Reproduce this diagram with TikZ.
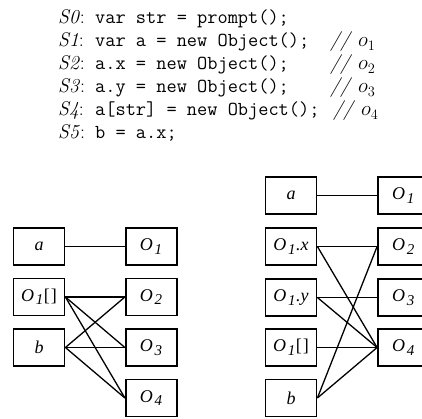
\documentclass[tikz,border=0pt]{standalone}
\usepackage{fontspec}
\newfontfamily\timesfont{Liberation Serif}
\newfontfamily\codefont{Latin Modern Mono}
\tikzset{
  box/.style={draw, line width=1.8pt, minimum width=51pt, minimum height=37pt,
    inner sep=0pt, font=\timesfont\itshape\fontsize{18}{18}\selectfont},
  link/.style={line width=1.3pt},
  codetext/.style={anchor=base west, inner sep=0pt, font=\fontsize{19.8}{23}\selectfont},
}
\newcommand\osub[1]{O\kern1.8pt\raisebox{-3.5pt}{\fontsize{15}{15}\selectfont #1}\kern0.5pt}
\newcommand\cd[1]{{\codefont #1}}
\begin{document}
\begin{tikzpicture}[x=1pt,y=-1pt]
\useasboundingbox (0,0) rectangle (422,419);
\clip (0,0) rectangle (422,419);
\fill[white] (0,0) rectangle (422,419);
% code
\node[codetext] (l0) at (58,24) {\textit{S0}:};
\node[codetext] (c0) at (95,24) {\cd{var str = prompt();}};
\node[codetext] (l1) at (58,47) {\textit{S1}:};
\node[codetext] (c1) at (95,47) {\cd{var a = new Object();}};
\node[codetext] (k1) at (330,47) {\textit{//} $o_1$};
\node[codetext] (l2) at (58,70) {\textit{S2}:};
\node[codetext] (c2) at (95,70) {\cd{a.x = new Object();}};
\node[codetext] (k2) at (330,70) {\textit{//} $o_2$};
\node[codetext] (l3) at (58,93) {\textit{S3}:};
\node[codetext] (c3) at (95,93) {\cd{a.y = new Object();}};
\node[codetext] (k3) at (330,93) {\textit{//} $o_3$};
\node[codetext] (l4) at (58,116) {\textit{S4}:};
\node[codetext] (c4) at (95,116) {\cd{a[str] = new Object();}};
\node[codetext] (k4) at (333,116) {\textit{//} $o_4$};
\node[codetext] (l5) at (58,139) {\textit{S5}:};
\node[codetext] (c5) at (95,139) {\cd{b = a.x;}};
% left graph
\node[box] (La)   at (39,246.5) {a};
\node[box] (Lo1b) at (39,297) {\osub{1}{\upshape[\kern1pt]}};
\node[box] (Lb)   at (39,347.5) {b};
\node[box] (LO1)  at (151.3,246.5) {\osub{1}};
\node[box] (LO2)  at (151.3,297) {\osub{2}};
\node[box] (LO3)  at (151.3,347.5) {\osub{3}};
\node[box] (LO4)  at (151.3,398) {\osub{4}};
\draw[link] (La.east) -- (LO1.west);
\draw[link] (Lo1b.east) -- (LO2.west);
\draw[link] (Lo1b.east) -- (LO3.west);
\draw[link] (Lo1b.east) -- (LO4.west);
\draw[link] (Lb.east) -- (LO2.west);
\draw[link] (Lb.east) -- (LO3.west);
\draw[link] (Lb.east) -- (LO4.west);
% right graph
\node[box] (Ra)   at (291,195.5) {a};
\node[box] (Rx)   at (291,246.5) {\osub{1}.x};
\node[box] (Ry)   at (291,297.5) {\osub{1}.y};
\node[box] (Rbr)  at (291,347.5) {\osub{1}{\upshape[\kern1pt]}};
\node[box] (Rb)   at (291,398) {b};
\node[box] (RO1)  at (403.5,195.5) {\osub{1}};
\node[box] (RO2)  at (403.5,246.5) {\osub{2}};
\node[box] (RO3)  at (403.5,297.5) {\osub{3}};
\node[box] (RO4)  at (403.5,347.5) {\osub{4}};
\draw[link] (Ra.east) -- (RO1.west);
\draw[link] (Rx.east) -- (RO2.west);
\draw[link] (Rx.east) -- (RO4.west);
\draw[link] (Ry.east) -- (RO3.west);
\draw[link] (Ry.east) -- (RO4.west);
\draw[link] (Rbr.east) -- (RO4.west);
\draw[link] (Rb.east) -- (RO2.west);
\draw[link] (Rb.east) -- (RO4.west);
\end{tikzpicture}
\end{document}
